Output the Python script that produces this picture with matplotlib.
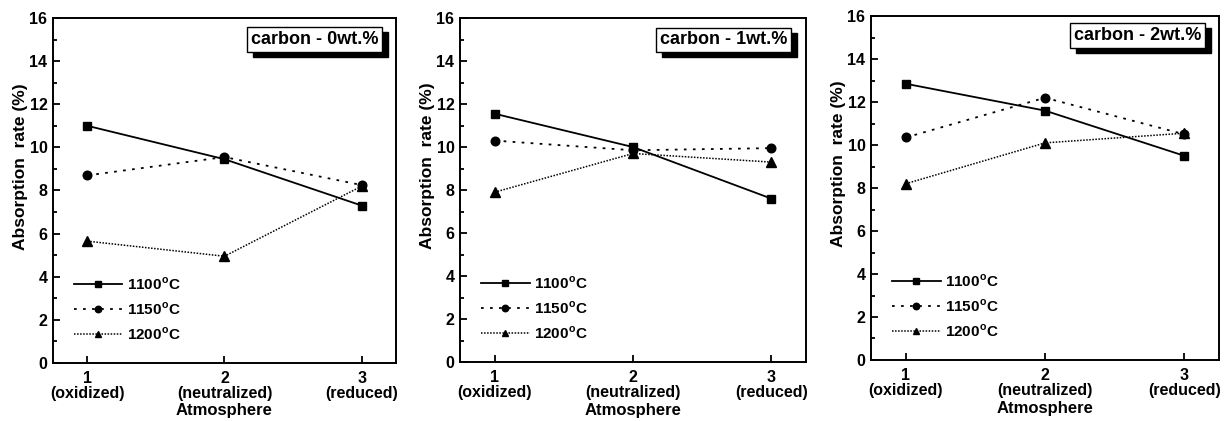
import matplotlib
matplotlib.use("Agg")
import matplotlib.pyplot as plt
from matplotlib.patches import Rectangle
import numpy as np

plt.rcParams['font.family'] = ['Liberation Sans', 'DejaVu Sans']
plt.rcParams['font.weight'] = 'bold'
plt.rcParams['mathtext.fontset'] = 'custom'
plt.rcParams['mathtext.rm'] = 'Liberation Sans:bold'

x = [1, 2, 3]
xlabels = ["1\n(oxidized)", "2\n(neutralized)", "3\n(reduced)"]
titles = ["carbon - 0wt.%", "carbon - 1wt.%", "carbon - 2wt.%"]
temps = ["1100$^{\\mathrm{o}}$C", "1150$^{\\mathrm{o}}$C", "1200$^{\\mathrm{o}}$C"]

c0_1100 = [11.0, 9.45, 7.3]
c0_1150 = [8.7, 9.55, 8.25]
c0_1200 = [5.65, 4.95, 8.2]

c1_1100 = [11.55, 10.0, 7.6]
c1_1150 = [10.3, 9.85, 9.95]
c1_1200 = [7.9, 9.7, 9.3]

c2_1100 = [12.85, 11.6, 9.5]
c2_1150 = [10.35, 12.2, 10.5]
c2_1200 = [8.2, 10.1, 10.55]

data = [[c0_1100, c0_1150, c0_1200],
        [c1_1100, c1_1150, c1_1200],
        [c2_1100, c2_1150, c2_1200]]

fig = plt.figure(figsize=(12.29, 4.21), dpi=100)
positions = [[0.0431, 0.1378, 0.2791, 0.8195],
             [0.3743, 0.1401, 0.2815, 0.8170],
             [0.7087, 0.1449, 0.2832, 0.8170]]
box_pos = [(0.948, 0.962), (0.946, 0.962), (0.949, 0.968)]

styles = [dict(ls='-', marker='s', ms=5.5, lw=1.3),
          dict(ls=(0, (1.5, 3.5)), marker='o', ms=6.2, lw=1.3),
          dict(ls=(0, (1, 1)), marker='^', ms=6.5, lw=1.1)]

boxes = []
for i in range(3):
    ax = fig.add_axes(positions[i])
    for j in range(3):
        ax.plot(x, data[i][j], color='black', label=temps[j], **styles[j])
    ax.set_xlim(0.75, 3.25)
    ax.set_ylim(0, 16)
    ax.set_xticks(x)
    ax.set_xticklabels(xlabels, linespacing=0.95)
    ax.set_yticks(np.arange(0, 17, 2))
    ax.set_yticks(np.arange(1, 17, 2), minor=True)
    ax.tick_params(axis='both', direction='in', labelsize=11.5, width=1.3, length=5)
    ax.tick_params(axis='x', pad=6)
    ax.tick_params(axis='y', pad=4)
    ax.tick_params(axis='y', which='minor', direction='in', length=3, width=1.3)
    ax.tick_params(top=False, right=False)
    for s in ax.spines.values():
        s.set_linewidth(1.4)
    ax.set_ylabel("Absorption  rate (%)", fontsize=12.5, fontweight='bold')
    ax.yaxis.set_label_coords(-0.073, 0.57)
    ax.set_xlabel("Atmosphere", fontsize=12, fontweight='bold', labelpad=2)

    bx, by = box_pos[i]
    t = ax.text(bx, by, titles[i], transform=ax.transAxes, ha='right', va='top', fontsize=13,
                color='black', zorder=6,
                bbox=dict(boxstyle='square,pad=0.2', fc='white', ec='black', lw=1))
    boxes.append((ax, t))

    ax.legend(loc='lower left', bbox_to_anchor=(0.02, 0.02), frameon=False, fontsize=11,
              handlelength=3.2, handletextpad=0.3, labelspacing=0.55, markerscale=0.75)

# drop shadow behind each title box
fig.canvas.draw()
for ax, t in boxes:
    bb = t.get_bbox_patch().get_window_extent()
    sh = Rectangle((bb.x0 + 6, bb.y0 - 5), bb.width, bb.height, transform=None,
                   facecolor='black', edgecolor='black', zorder=5)
    ax.add_artist(sh)

fig.savefig("out.png", dpi=100)
